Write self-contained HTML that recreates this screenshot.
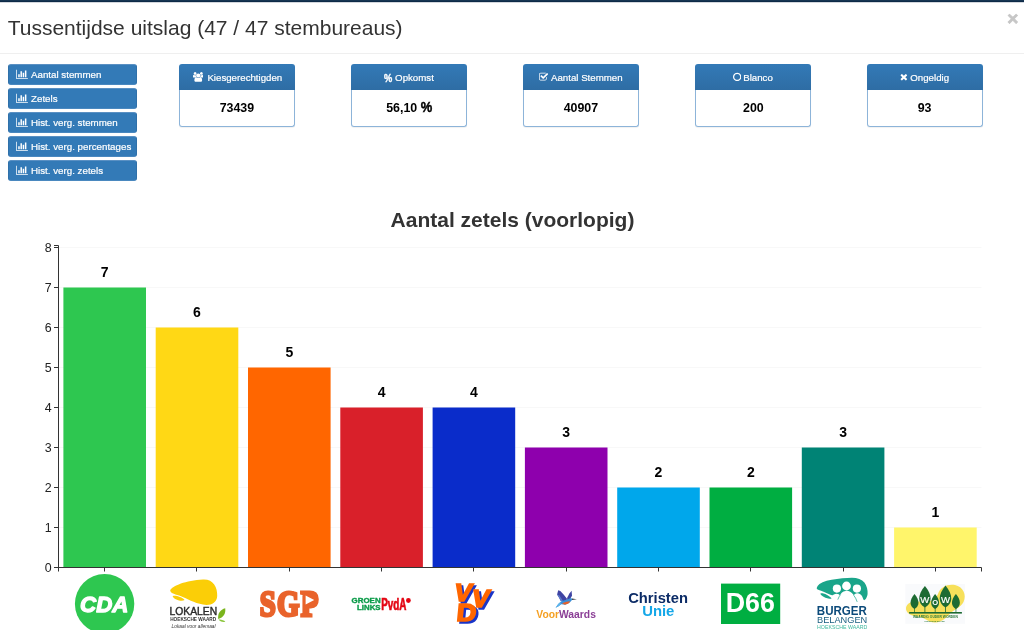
<!DOCTYPE html>
<html lang="nl">
<head>
<meta charset="utf-8">
<title>Tussentijdse uitslag</title>
<style>
*{box-sizing:border-box;}
html,body{margin:0;padding:0;}
body{width:1024px;height:638px;overflow:hidden;background:#fff;font-family:"Liberation Sans",Arial,sans-serif;color:#333;position:relative;}
#topbar{position:absolute;left:0;top:0;width:1024px;height:3px;background:linear-gradient(#163552 0,#163552 1px,#0d2a47 1px,#0d2a47 2px,#d3d7dd 2px,#d3d7dd 3px);}
#title{position:absolute;left:7.7px;top:15px;font-size:21px;line-height:26px;font-weight:400;margin:0;color:#333;white-space:nowrap;}
#close{position:absolute;margin:0;padding:0;border:0;background:none;font-family:inherit;cursor:pointer;left:1007.3px;top:7.7px;font-size:19px;line-height:22px;font-weight:700;color:#c6c6c6;-webkit-text-stroke:.7px #c6c6c6;}
#hr{position:absolute;left:0;top:53px;width:1024px;height:1px;background:#efefef;}
.btn{position:absolute;margin:0;font-family:inherit;text-align:left;cursor:pointer;left:8px;width:129px;height:21px;background:#337ab7;border:1px solid #2f70a9;border-top-color:#5a90c3;border-bottom-color:#4a88bf;border-radius:3px;color:#fff;font-size:9.75px;line-height:19px;padding:0 0 0 22px;white-space:nowrap;}
.btn .ic{position:absolute;left:7.1px;top:3.6px;}
.btn span,.panel .hd span{-webkit-text-stroke:.2px #fff;}
.panel{position:absolute;top:64px;width:116px;height:63px;border-radius:3px;background:#fff;box-shadow:0 1px 1px rgba(0,0,0,.06);}
.panel .hd{position:relative;height:26px;border:1px solid transparent;border-bottom:0;background:#337ab7 linear-gradient(#337ab7,#2e6da4) 0 0/100% 100% no-repeat border-box;color:#fff;font-size:9.7px;line-height:25px;border-radius:3px 3px 0 0;white-space:nowrap;}
.panel .bd{height:37px;border:1px solid #8db4d9;border-top:0;border-radius:0 0 3px 3px;}
.panel .hd i{position:absolute;top:0;height:25px;font-style:normal;}
.panel .hd i svg{position:absolute;left:0;top:7px;}
.panel .hd span{position:absolute;top:0;}
.pct{display:inline-block;font-size:11.6px;font-weight:700;transform:scaleX(.8);transform-origin:0 50%;-webkit-text-stroke:.4px #fff;}
.panel .bd{text-align:center;font-weight:700;font-size:13.6px;line-height:36px;color:#000;}
.panel .bd .v{display:inline-block;transform:scaleX(.912);white-space:pre;}
.pct2{font-size:14.2px;line-height:1px;-webkit-text-stroke:.45px #000;}
#chart{position:absolute;left:0;top:200px;}
</style>
</head>
<body>
<div id="topbar"></div>
<h3 id="title">Tussentijdse uitslag (47 / 47 stembureaus)</h3>
<button type="button" id="close" aria-label="Sluiten">×</button>
<div id="hr"></div>

<button type="button" class="btn" style="top:64px"><svg class="ic" width="11.9" height="10.4" viewBox="0 0 2048 1792"><path fill="#fff" d="M640 896v512h-256v-512h256zM1024 384v1024h-256v-1024h256zM2048 1536v128h-2048v-1536h128v1408h1920zM1408 640v768h-256v-768h256zM1792 256v1152h-256v-1152h256z"/></svg><span>Aantal stemmen</span></button>
<button type="button" class="btn" style="top:88px"><svg class="ic" width="11.9" height="10.4" viewBox="0 0 2048 1792"><path fill="#fff" d="M640 896v512h-256v-512h256zM1024 384v1024h-256v-1024h256zM2048 1536v128h-2048v-1536h128v1408h1920zM1408 640v768h-256v-768h256zM1792 256v1152h-256v-1152h256z"/></svg><span>Zetels</span></button>
<button type="button" class="btn" style="top:112px"><svg class="ic" width="11.9" height="10.4" viewBox="0 0 2048 1792"><path fill="#fff" d="M640 896v512h-256v-512h256zM1024 384v1024h-256v-1024h256zM2048 1536v128h-2048v-1536h128v1408h1920zM1408 640v768h-256v-768h256zM1792 256v1152h-256v-1152h256z"/></svg><span>Hist. verg. stemmen</span></button>
<button type="button" class="btn" style="top:136px"><svg class="ic" width="11.9" height="10.4" viewBox="0 0 2048 1792"><path fill="#fff" d="M640 896v512h-256v-512h256zM1024 384v1024h-256v-1024h256zM2048 1536v128h-2048v-1536h128v1408h1920zM1408 640v768h-256v-768h256zM1792 256v1152h-256v-1152h256z"/></svg><span>Hist. verg. percentages</span></button>
<button type="button" class="btn" style="top:160px"><svg class="ic" width="11.9" height="10.4" viewBox="0 0 2048 1792"><path fill="#fff" d="M640 896v512h-256v-512h256zM1024 384v1024h-256v-1024h256zM2048 1536v128h-2048v-1536h128v1408h1920zM1408 640v768h-256v-768h256zM1792 256v1152h-256v-1152h256z"/></svg><span>Hist. verg. zetels</span></button>

<div class="panel" style="left:179px"><div class="hd"><i style="left:12.5px"><svg class="ic" width="10.5" height="9.8" viewBox="0 0 1920 1792"><path fill="#fff" d="M593 896q-162 5-265 128h-134q-82 0-138-40.500t-56-118.500q0-353 124-353q6 0 43.500 21t97.500 42.500t119 21.500q67 0 133-23q-5 37-5 66q0 139 81 256zM1664 1533q0 120-73 189.500t-194 69.500h-874q-121 0-194-69.500t-73-189.500q0-53 3.500-103.500t14-109t26.500-108.500t43-97.500t62-81t85.500-53.500t111.500-20q10 0 43 21.500t73 48t107 48t135 21.500t135-21.500t107-48t73-48t43-21.500q61 0 111.500 20t85.500 53.500t62 81t43 97.500t26.500 108.500t14 109t3.500 103.500zM640 256q0 106-75 181t-181 75t-181-75t-75-181t75-181t181-75t181 75t75 181zM1344 640q0 159-112.500 271.500t-271.500 112.500t-271.500-112.500t-112.500-271.500t112.500-271.500t271.500-112.500t271.500 112.500t112.500 271.500zM1920 864q0 78-56 118.500t-138 40.500h-134q-103-123-265-128q81-117 81-256q0-29-5-66q66 23 133 23q59 0 119-21.500t97.500-42.500t43.500-21q124 0 124 353zM1792 256q0 106-75 181t-181 75t-181-75t-75-181t75-181t181-75t181 75t75 181z"/></svg></i><span style="left:27.4px">Kiesgerechtigden</span></div><div class="bd"><span class="v">73439</span></div></div>
<div class="panel" style="left:351px"><div class="hd"><i style="left:31.9px"><b class="pct">%</b></i><span style="left:43.1px">Opkomst</span></div><div class="bd"><span class="v">56,10 <b class="pct2">%</b></span></div></div>
<div class="panel" style="left:523px"><div class="hd"><i style="left:14.9px"><svg class="ic" width="9.1" height="9.8" viewBox="0 0 1664 1792"><path fill="#fff" d="M1408 930v318q0 119-84.500 203.500t-203.500 84.500h-832q-119 0-203.500-84.500t-84.500-203.500v-832q0-119 84.500-203.500t203.500-84.500h832q63 0 117 25q15 7 18 23q3 17-9 29l-49 49q-10 10-23 10q-3 0-9-2q-23-6-45-6h-832q-66 0-113 47t-47 113v832q0 66 47 113t113 47h832q66 0 113-47t47-113v-254q0-13 9-22l64-64q10-10 23-10q6 0 12 3q20 8 20 29zM1639 441l-814 814q-24 24-57 24t-57-24l-430-430q-24-24-24-57t24-57l110-110q24-24 57-24t57 24l263 263l647-647q24-24 57-24t57 24l110 110q24 24 24 57t-24 57z"/></svg></i><span style="left:27.0px">Aantal Stemmen</span></div><div class="bd"><span class="v">40907</span></div></div>
<div class="panel" style="left:695px"><div class="hd"><i style="left:36.5px"><svg class="ic" width="8.4" height="9.8" viewBox="0 0 1536 1792"><path fill="#fff" d="M768 352q-148 0-273 73t-198 198t-73 273t73 273t198 198t273 73t273-73t198-198t73-273t-73-273t-198-198t-273-73zM1536 896q0 209-103 385.500t-279.500 279.500t-385.500 103t-385.500-103t-279.500-279.500t-103-385.500t103-385.500t279.500-279.500t385.500-103t385.500 103t279.500 279.500t103 385.500z"/></svg></i><span style="left:47.2px">Blanco</span></div><div class="bd"><span class="v">200</span></div></div>
<div class="panel" style="left:867px"><div class="hd"><i style="left:32.0px"><svg class="ic" width="7.7" height="9.8" viewBox="0 0 1408 1792"><path fill="#fff" d="M1298 1322q0 40-28 68l-136 136q-28 28-68 28t-68-28l-294-294l-294 294q-28 28-68 28t-68-28l-136-136q-28-28-28-68t28-68l294-294l-294-294q-28-28-28-68t28-68l136-136q28-28 68-28t68 28l294 294l294-294q28-28 68-28t68 28l136 136q28 28 28 68t-28 68l-294 294l294 294q28 28 28 68z"/></svg></i><span style="left:42.3px">Ongeldig</span></div><div class="bd"><span class="v">93</span></div></div>

<svg id="chart" width="1024" height="438" viewBox="0 200 1024 438" font-family="Liberation Sans, Arial, sans-serif">
<!--CHART-->
<text x="512.5" y="227.3" text-anchor="middle" font-size="21" font-weight="700" fill="#333">Aantal zetels (voorlopig)</text>
<line x1="58.5" x2="981.5" y1="527.5" y2="527.5" stroke="#f8f8f8" stroke-width="1"/>
<line x1="58.5" x2="981.5" y1="487.5" y2="487.5" stroke="#f8f8f8" stroke-width="1"/>
<line x1="58.5" x2="981.5" y1="447.5" y2="447.5" stroke="#f8f8f8" stroke-width="1"/>
<line x1="58.5" x2="981.5" y1="407.5" y2="407.5" stroke="#f8f8f8" stroke-width="1"/>
<line x1="58.5" x2="981.5" y1="367.5" y2="367.5" stroke="#f8f8f8" stroke-width="1"/>
<line x1="58.5" x2="981.5" y1="327.5" y2="327.5" stroke="#f8f8f8" stroke-width="1"/>
<line x1="58.5" x2="981.5" y1="287.5" y2="287.5" stroke="#f8f8f8" stroke-width="1"/>
<line x1="58.5" x2="981.5" y1="247.5" y2="247.5" stroke="#f8f8f8" stroke-width="1"/>
<rect x="63.40" y="287.50" width="82.60" height="280.00" fill="#2ec750"/>
<text x="104.70" y="277.00" text-anchor="middle" font-size="14" font-weight="700" fill="#000">7</text>
<rect x="155.70" y="327.50" width="82.60" height="240.00" fill="#ffd815"/>
<text x="197.00" y="317.00" text-anchor="middle" font-size="14" font-weight="700" fill="#000">6</text>
<rect x="248.00" y="367.50" width="82.60" height="200.00" fill="#ff6600"/>
<text x="289.30" y="357.00" text-anchor="middle" font-size="14" font-weight="700" fill="#000">5</text>
<rect x="340.30" y="407.50" width="82.60" height="160.00" fill="#d9202a"/>
<text x="381.60" y="397.00" text-anchor="middle" font-size="14" font-weight="700" fill="#000">4</text>
<rect x="432.60" y="407.50" width="82.60" height="160.00" fill="#0a2cca"/>
<text x="473.90" y="397.00" text-anchor="middle" font-size="14" font-weight="700" fill="#000">4</text>
<rect x="524.90" y="447.50" width="82.60" height="120.00" fill="#8e00ad"/>
<text x="566.20" y="437.00" text-anchor="middle" font-size="14" font-weight="700" fill="#000">3</text>
<rect x="617.20" y="487.50" width="82.60" height="80.00" fill="#00a7eb"/>
<text x="658.50" y="477.00" text-anchor="middle" font-size="14" font-weight="700" fill="#000">2</text>
<rect x="709.50" y="487.50" width="82.60" height="80.00" fill="#00ae41"/>
<text x="750.80" y="477.00" text-anchor="middle" font-size="14" font-weight="700" fill="#000">2</text>
<rect x="801.80" y="447.50" width="82.60" height="120.00" fill="#008375"/>
<text x="843.10" y="437.00" text-anchor="middle" font-size="14" font-weight="700" fill="#000">3</text>
<rect x="894.10" y="527.50" width="82.60" height="40.00" fill="#fff56b"/>
<text x="935.40" y="517.00" text-anchor="middle" font-size="14" font-weight="700" fill="#000">1</text>
<path d="M54.0 245.5H58.5V567.5H54.0" fill="none" stroke="#333" stroke-width="1"/>
<path d="M58.5 571.5V567.5H981.5V571.5" fill="none" stroke="#333" stroke-width="1"/>
<line x1="54.0" x2="58.5" y1="567.5" y2="567.5" stroke="#333" stroke-width="1"/>
<text x="51.6" y="571.5" text-anchor="end" font-size="12.4" fill="#222">0</text>
<line x1="54.0" x2="58.5" y1="527.5" y2="527.5" stroke="#333" stroke-width="1"/>
<text x="51.6" y="531.5" text-anchor="end" font-size="12.4" fill="#222">1</text>
<line x1="54.0" x2="58.5" y1="487.5" y2="487.5" stroke="#333" stroke-width="1"/>
<text x="51.6" y="491.5" text-anchor="end" font-size="12.4" fill="#222">2</text>
<line x1="54.0" x2="58.5" y1="447.5" y2="447.5" stroke="#333" stroke-width="1"/>
<text x="51.6" y="451.5" text-anchor="end" font-size="12.4" fill="#222">3</text>
<line x1="54.0" x2="58.5" y1="407.5" y2="407.5" stroke="#333" stroke-width="1"/>
<text x="51.6" y="411.5" text-anchor="end" font-size="12.4" fill="#222">4</text>
<line x1="54.0" x2="58.5" y1="367.5" y2="367.5" stroke="#333" stroke-width="1"/>
<text x="51.6" y="371.5" text-anchor="end" font-size="12.4" fill="#222">5</text>
<line x1="54.0" x2="58.5" y1="327.5" y2="327.5" stroke="#333" stroke-width="1"/>
<text x="51.6" y="331.5" text-anchor="end" font-size="12.4" fill="#222">6</text>
<line x1="54.0" x2="58.5" y1="287.5" y2="287.5" stroke="#333" stroke-width="1"/>
<text x="51.6" y="291.5" text-anchor="end" font-size="12.4" fill="#222">7</text>
<line x1="54.0" x2="58.5" y1="247.5" y2="247.5" stroke="#333" stroke-width="1"/>
<text x="51.6" y="251.5" text-anchor="end" font-size="12.4" fill="#222">8</text>
<line x1="104.50" x2="104.50" y1="567.5" y2="571.5" stroke="#333" stroke-width="1"/>
<line x1="196.50" x2="196.50" y1="567.5" y2="571.5" stroke="#333" stroke-width="1"/>
<line x1="289.50" x2="289.50" y1="567.5" y2="571.5" stroke="#333" stroke-width="1"/>
<line x1="381.50" x2="381.50" y1="567.5" y2="571.5" stroke="#333" stroke-width="1"/>
<line x1="473.50" x2="473.50" y1="567.5" y2="571.5" stroke="#333" stroke-width="1"/>
<line x1="566.50" x2="566.50" y1="567.5" y2="571.5" stroke="#333" stroke-width="1"/>
<line x1="658.50" x2="658.50" y1="567.5" y2="571.5" stroke="#333" stroke-width="1"/>
<line x1="750.50" x2="750.50" y1="567.5" y2="571.5" stroke="#333" stroke-width="1"/>
<line x1="843.50" x2="843.50" y1="567.5" y2="571.5" stroke="#333" stroke-width="1"/>
<line x1="935.50" x2="935.50" y1="567.5" y2="571.5" stroke="#333" stroke-width="1"/>
<!-- CDA -->
<g>
<clipPath id="cdaclip"><rect x="70" y="570" width="70" height="60"/></clipPath>
<circle cx="104.6" cy="603.8" r="29.7" fill="#2ec750" clip-path="url(#cdaclip)"/>
<text x="104.2" y="611.8" text-anchor="middle" font-size="22.3" font-weight="700" font-style="italic" fill="#fff" stroke="#fff" stroke-width="1.3" stroke-linejoin="round">CDA</text>
</g>
<!-- Lokalen -->
<g>
<path d="M170.2 590.5 C172 586 186 580.5 203 579.6 C213 579 217.6 587 217.2 596 C216.8 603.5 210 606 203 604.6 C194 602.8 187 598.5 181 596.2 C176 594.5 170.5 593.5 170.2 590.5 Z" fill="#fbce07"/>
<path d="M172.6 596.2 C175 595 182 597 184.6 600 C182 601.8 174.5 600.2 172.6 596.2 Z" fill="#fbce07"/>
<text x="169.6" y="615.3" font-size="10.3" fill="#2a2a2a" stroke="#2a2a2a" stroke-width="0.4" textLength="47.6" lengthAdjust="spacingAndGlyphs">LOKALEN</text>
<text x="170.2" y="620.5" font-size="4.8" font-weight="700" fill="#333" textLength="46" lengthAdjust="spacingAndGlyphs">HOEKSCHE WAARD</text>
<text x="171.6" y="627.6" font-size="5" font-style="italic" fill="#333" textLength="44" lengthAdjust="spacingAndGlyphs">Lokaal voor allemaal</text>
<path d="M218.2 619 C217.5 613 220.5 609.5 225.2 608.2 C226 613 223.5 617.5 218.2 619 Z" fill="#7ab51d"/>
<path d="M218.5 619.6 C221 619.2 224 620.2 225.3 621.8 C222.5 622.4 219.8 621.6 218.5 619.6 Z" fill="#8cc63f"/>
</g>
<!-- SGP -->
<g>
<text transform="translate(289.6 615.8) scale(0.815 1)" text-anchor="middle" font-family="Liberation Serif, serif" font-size="35.4" font-weight="700" letter-spacing="1.5" fill="#e9632b" stroke="#e9632b" stroke-width="3" stroke-linejoin="miter">SGP</text>
<rect x="304.5" y="594" width="9.5" height="11.5" fill="#e9632b"/>
<path d="M305.6 595.4V604.6L314.2 600Z" fill="#fff"/>
</g>
<!-- GroenLinks PvdA -->
<g>
<text x="380.6" y="603.3" text-anchor="end" font-size="7.4" font-weight="700" fill="#0a9b48" stroke="#0a9b48" stroke-width="0.35" textLength="29" lengthAdjust="spacingAndGlyphs">GROEN</text>
<text x="380.6" y="609.7" text-anchor="end" font-size="7.4" font-weight="700" fill="#0a9b48" stroke="#0a9b48" stroke-width="0.35" textLength="23.5" lengthAdjust="spacingAndGlyphs">LINKS</text>
<text transform="translate(381.2 609.7) scale(0.61 1)" font-size="16.2" font-weight="700" fill="#e30613" stroke="#e30613" stroke-width="0.7">PvdA</text>
<circle cx="408.4" cy="600.5" r="2.4" fill="#e30613"/>
</g>
<!-- VVD -->
<g font-weight="700" stroke-linejoin="miter">
<text transform="translate(456.6 602.9) scale(1.1 1)" font-size="23.4" font-style="italic" fill="#1a35c8" stroke="#1a35c8" stroke-width="1.6">V</text>
<text transform="translate(454.4 600.7) scale(1.1 1)" font-size="23.4" font-style="italic" fill="#ff6600" stroke="#ff6600" stroke-width="1.6">V</text>
<text transform="translate(474.2 609.2) scale(1.1 1)" font-size="23.4" font-style="italic" fill="#1a35c8" stroke="#1a35c8" stroke-width="1.6">V</text>
<text transform="translate(472.0 607.0) scale(1.1 1)" font-size="23.4" font-style="italic" fill="#ff6600" stroke="#ff6600" stroke-width="1.6">V</text>
<text transform="translate(458.3 622.7) scale(1.11 1) skewX(-5)" font-size="24.5" fill="#1a35c8" stroke="#1a35c8" stroke-width="1.6">D</text>
<text transform="translate(456.1 620.5) scale(1.11 1) skewX(-5)" font-size="24.5" fill="#ff6600" stroke="#ff6600" stroke-width="1.6">D</text>
</g>
<!-- VoorWaards -->
<g>
<path d="M558.2 590.3L557.1 594.4L559.1 597.8L560.8 600.9L565.5 601.3L567.2 599.1L563.8 594.8L560.3 590.9Z" fill="#3f44a3"/>
<path d="M557.1 594.4L559.1 597.8L560.8 600.9L563 601.1L559.5 595.5Z" fill="#5a78c8"/>
<path d="M571.6 590.8L569.4 593.5L567.2 597.8L567.1 600L569.8 599.6L572 595.7Z" fill="#3f44a3"/>
<path d="M555.6 607.8L558.2 603.9L561.2 601.3L567.2 599.6L570.7 598.1L572.2 598.7L572 600L569.8 602.6L565.5 604.7L561.2 604.3L558.2 606.5Z" fill="#3a8fd9"/>
<path d="M555.6 607.8L558.2 603.9L560.5 602L560.8 604.4L558.2 606.5Z" fill="#5cb4ea"/>
<path d="M572 598.6L576.8 599.3L572 600Z" fill="#3a3a3a"/>
<path d="M562.1 603.2L566.4 601.8L570.3 601.3L568.5 603.6L564.7 604.8Z" fill="#e8622a"/>
<text x="536.3" y="617.7" font-size="10" font-weight="700" textLength="59.6" lengthAdjust="spacingAndGlyphs"><tspan fill="#f5a023">Voor</tspan><tspan fill="#8b3f96">Waards</tspan></text>
</g>
<!-- ChristenUnie -->
<g font-weight="700">
<text x="628.2" y="602.6" font-size="14.6" fill="#0b2b66" textLength="59.8" lengthAdjust="spacingAndGlyphs">Christen</text>
<text x="642.2" y="615.5" font-size="14.6" fill="#14a7e8" textLength="32.2" lengthAdjust="spacingAndGlyphs">Unie</text>
</g>
<!-- D66 -->
<g>
<rect x="721" y="583.6" width="59.2" height="40.4" fill="#00ae41"/>
<text x="750.3" y="612.3" text-anchor="middle" font-size="26.8" font-weight="700" fill="#fff">D66</text>
</g>
<!-- Burger Belangen -->
<g>
<path d="M816.7 588.4 Q816.7 587.6 817.8 585.7 Q818.8 583.8 822.6 582.2 Q826.3 580.6 831.6 579.7 Q836.9 578.7 842.3 578.2 Q847.6 577.7 851.9 577.7 Q856.1 577.7 859.3 578.9 Q862.5 580.1 864.4 582.5 Q866.2 584.9 867.0 588.1 Q867.8 591.3 867.6 594.0 Q867.3 596.6 866.2 598.2 Q865.2 599.8 864.4 600.1 Q863.6 600.4 863.0 598.5 Q862.5 596.6 861.4 595.3 Q860.4 594.0 858.8 593.4 Q857.2 592.9 855.9 593.4 Q854.5 594.0 854.1 594.8 Q853.8 595.6 852.8 594.0 Q851.9 592.4 849.7 591.4 Q847.6 590.4 845.5 590.9 Q843.3 591.3 842.0 592.6 Q840.7 594.0 840.3 594.8 Q839.9 595.6 839.5 594.9 Q839.1 594.3 837.7 594.0 Q836.4 593.6 835.1 594.1 Q833.8 594.5 833.0 595.0 Q832.2 595.6 829.2 594.2 Q826.3 592.9 823.6 591.8 Q821.0 590.8 818.8 590.0 Q816.7 589.2 816.7 588.4Z" fill="#1aa58a"/>
<path d="M820.4 594.0 Q819.9 592.9 822.6 593.3 Q825.2 593.6 828.4 595.8 Q831.6 597.9 831.4 598.4 Q831.1 599.0 828.2 598.4 Q825.2 597.9 823.1 596.5 Q821.0 595.0 820.4 594.0Z" fill="#1aa58a"/>
<circle cx="836.9" cy="588.6" r="4.1" fill="#fff"/>
<circle cx="846.5" cy="586" r="4.4" fill="#fff"/>
<circle cx="856.9" cy="588.6" r="4.1" fill="#fff"/>
<path d="M840.5 594.7Q838.9 596.6 837.8 599.6" fill="none" stroke="#1aa58a" stroke-width="0.7"/>
<path d="M853.6 595.1Q855.9 597.9 857.2 601.9" fill="none" stroke="#1aa58a" stroke-width="0.7"/>
<text x="816.8" y="614.5" font-size="12.6" font-weight="700" fill="#0c4a7a" textLength="50" lengthAdjust="spacingAndGlyphs">BURGER</text>
<text x="817" y="623.3" font-size="9.9" fill="#1a5e80" textLength="50.3" lengthAdjust="spacingAndGlyphs">BELANGEN</text>
<text x="817" y="629.2" font-size="5.4" fill="#3fb89f" textLength="50.3" lengthAdjust="spacingAndGlyphs">HOEKSCHE WAARD</text>
</g>
<!-- WOW -->
<g>
<rect x="905.3" y="583.9" width="59.7" height="39.9" fill="#f9fafc"/>
<path d="M938 594 C940 587 948 583.6 955 585 C963 586.6 967 595 963.5 602 C961 607 955 609.5 951 612.5 C947 617 942 622.5 935 622.6 C928 622.7 925 617 918 616.5 C911 616 905.5 613 906 608 C906.5 603 912 601 918 601.5 C926 602 934 603 938 594 Z" fill="#f7e05a"/>
<g fill="#1d6b33">
<path d="M914.5 594 C919.8 600.3 919.8 606.0 914.5 609 C909.2 606.0 909.2 600.3 914.5 594 Z"/>
<path d="M924.9 586 C932.5 595.1 932.5 603.3 924.9 607.6 C917.3 603.3 917.3 595.1 924.9 586 Z"/>
<path d="M935.1 594 C940.4 600.3 940.4 606.0 935.1 609 C929.8 606.0 929.8 600.3 935.1 594 Z"/>
<path d="M945.5 585.5 C953.2 594.8 953.2 603.2 945.5 607.6 C937.8 603.2 937.8 594.8 945.5 585.5 Z"/>
<path d="M955.9 594 C961.2 600.3 961.2 606.0 955.9 609 C950.6 606.0 950.6 600.3 955.9 594 Z"/>
<rect x="909.1" y="612" width="52.8" height="1.6"/>
<rect x="914.2" y="608" width="0.7" height="4.5"/><rect x="924.5" y="606.5" width="0.8" height="6"/><rect x="934.8" y="608" width="0.7" height="4.5"/><rect x="945.1" y="606.5" width="0.8" height="6"/><rect x="955.6" y="608" width="0.7" height="4.5"/>
</g>
<text x="924.9" y="602.9" text-anchor="middle" font-size="9.6" fill="#fff" stroke="#fff" stroke-width="0.2">W</text>
<text x="935.1" y="605.2" text-anchor="middle" font-size="7.6" font-weight="700" fill="#fff">O</text>
<text x="945.5" y="602.9" text-anchor="middle" font-size="9.6" fill="#fff" stroke="#fff" stroke-width="0.2">W</text>
<text x="912.9" y="618.2" font-size="3" font-weight="700" fill="#2d7a3f" textLength="45" lengthAdjust="spacingAndGlyphs">WAARDIG OUDER WORDEN</text>
<text x="924.1" y="622.2" font-size="2" font-weight="700" fill="#2d7a3f" textLength="20.7" lengthAdjust="spacingAndGlyphs">HOEKSCHE WAARD</text>
</g>

<!--/CHART-->
</svg>
</body>
</html>
